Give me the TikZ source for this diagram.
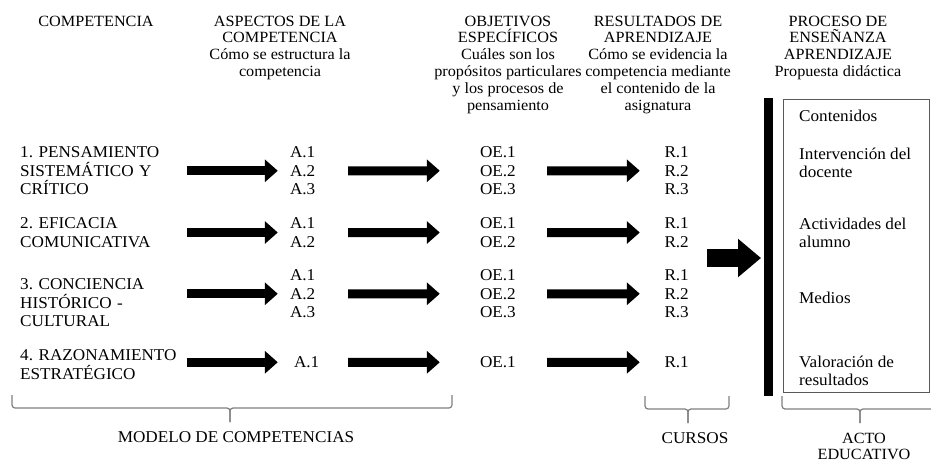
\documentclass[tikz,border=0pt]{standalone}
\usepackage{fontspec}
\setmainfont[FakeStretch=1.04]{Liberation Serif}
\usetikzlibrary{arrows.meta}
\frenchspacing

\begin{document}
\begin{tikzpicture}[x=1pt,y=-1pt,
  txt/.style={inner sep=0pt, font=\fontsize{16.5}{18.5}\selectfont, align=left},
  col/.style={txt, anchor=north, text width=#1},
  head/.style={inner sep=0pt, font=\fontsize{15.6}{16.8}\selectfont, align=center, anchor=north},
  flecha/.style={line width=9pt, -{Triangle[length=13pt,width=22pt]}},
  flechag/.style={line width=18pt, -{Triangle[length=23pt,width=37pt]}},
  llave/.style={draw=gray, line width=1.2pt, rounded corners=3pt}]

\useasboundingbox (0,0) rectangle (931,463);

% headings
\node [head] (hcomp) at (96,15.5) {COMPETENCIA};
\node [head] (hasp) at (280,15.5) {ASPECTOS DE LA\\COMPETENCIA\\C\'omo se estructura la\\competencia};
\node [head] (hobj) at (508,15.5) {OBJETIVOS\\ESPEC\'IFICOS\\Cu\'ales son los\\prop\'ositos particulares\\y los procesos de\\pensamiento};
\node [head] (hres) at (658,15.5) {RESULTADOS DE\\APRENDIZAJE\\C\'omo se evidencia la\\competencia mediante\\el contenido de la\\asignatura};
\node [head] (hproc) at (838,15.5) {PROCESO DE\\ENSE\~NANZA\\APRENDIZAJE\\Propuesta did\'actica};

% row 1
\node [txt, anchor=north west, text width=160pt] (c1) at (20,146.5) {1. PENSAMIENTO\\SISTEM\'ATICO Y\\CR\'ITICO};
\node [col=30pt] (a1) at (305,146.5) {A.1\\A.2\\A.3};
\node [col=38pt] (oe1) at (499,146.5) {OE.1\\OE.2\\OE.3};
\node [col=28pt] (r1) at (678.5,146.5) {R.1\\R.2\\R.3};

% row 2
\node [txt, anchor=north west, text width=160pt] (c2) at (20,217.5) {2. EFICACIA\\COMUNICATIVA};
\node [col=30pt] (a2) at (305,217.5) {A.1\\A.2};
\node [col=38pt] (oe2) at (499,217.5) {OE.1\\OE.2};
\node [col=28pt] (r2) at (678.5,217.5) {R.1\\R.2};

% row 3
\node [txt, anchor=north west, text width=160pt] (c3) at (20,278.5) {3. CONCIENCIA\\HIST\'ORICO -\\CULTURAL};
\node [col=30pt] (a3) at (305,269.5) {A.1\\A.2\\A.3};
\node [col=38pt] (oe3) at (499,269.5) {OE.1\\OE.2\\OE.3};
\node [col=28pt] (r3) at (678.5,269.5) {R.1\\R.2\\R.3};

% row 4
\node [txt, anchor=north west, text width=160pt] (c4) at (20,349.5) {4. RAZONAMIENTO\\ESTRAT\'EGICO};
\node [col=30pt] (a4) at (309,356.5) {A.1};
\node [col=38pt] (oe4) at (499,356.5) {OE.1};
\node [col=28pt] (r4) at (678.5,356.5) {R.1};

% arrows
\draw [flecha, shorten <=7pt, shorten >=12pt] (c1.east |- a1.west) -- (a1.west);
\draw [flecha, shorten <=28pt, shorten >=40pt] (a1.east) -- (oe1.west);
\draw [flecha, shorten <=29pt, shorten >=24.5pt] (oe1.east) -- (r1.west);

\draw [flecha, shorten <=7pt, shorten >=12pt] (c2.east |- a2.west) -- (a2.west);
\draw [flecha, shorten <=28pt, shorten >=40pt] (a2.east) -- (oe2.west);
\draw [flecha, shorten <=29pt, shorten >=24.5pt] (oe2.east) -- (r2.west);

\draw [flecha, shorten <=7pt, shorten >=12pt] (c3.east |- a3.west) -- (a3.west);
\draw [flecha, shorten <=28pt, shorten >=40pt] (a3.east) -- (oe3.west);
\draw [flecha, shorten <=29pt, shorten >=24.5pt] (oe3.east) -- (r3.west);

\draw [flecha, shorten <=7pt, shorten >=16pt] (c4.east |- a4.west) -- (a4.west);
\draw [flecha, shorten <=24pt, shorten >=40pt] (a4.east) -- (oe4.west);
\draw [flecha, shorten <=29pt, shorten >=24.5pt] (oe4.east) -- (r4.west);

% bar and box
\node [fill=black, inner sep=0pt, minimum width=9pt, minimum height=298pt, anchor=north west] (barra) at (764,98) {};
\coordinate (ini) at (707,258);
\draw [flechag, shorten >=3pt] (ini) -- (ini -| barra.west);

\node [draw=gray!70!black, line width=1.2pt, inner sep=0pt, minimum width=146pt, minimum height=293pt, anchor=north west] (caja) at (783,99) {};
\node [txt, anchor=north west] (i1) at (799,109.5) {Contenidos};
\node [txt, anchor=north west] (i2) at (799,147.5) {Intervenci\'on del\\docente};
\node [txt, anchor=north west] (i3) at (799,217.5) {Actividades del\\alumno};
\node [txt, anchor=north west] (i4) at (799,291.5) {Medios};
\node [txt, anchor=north west] (i5) at (799,355.5) {Valoraci\'on de\\resultados};

% braces
\draw [llave] (12,395) -- (12,408) -- (230,408) -- (230,422);
\draw [llave] (452,395) -- (452,408) -- (230,408) -- (230,422);
\node [txt] (modelo) at (236,437) {MODELO DE COMPETENCIAS};

\draw [llave] (645,396) -- (645,409) -- (688,409) -- (688,423);
\draw [llave] (729,396) -- (729,409) -- (688,409) -- (688,423);
\node [txt] (cursos) at (695,438) {CURSOS};

\draw [llave] (782,396) -- (782,409) -- (860,409) -- (860,423);
\draw [llave] (938,396) -- (938,409) -- (860,409) -- (860,423);
\node [head] (acto) at (864,432.5) {ACTO\\EDUCATIVO};

\end{tikzpicture}
\end{document}
